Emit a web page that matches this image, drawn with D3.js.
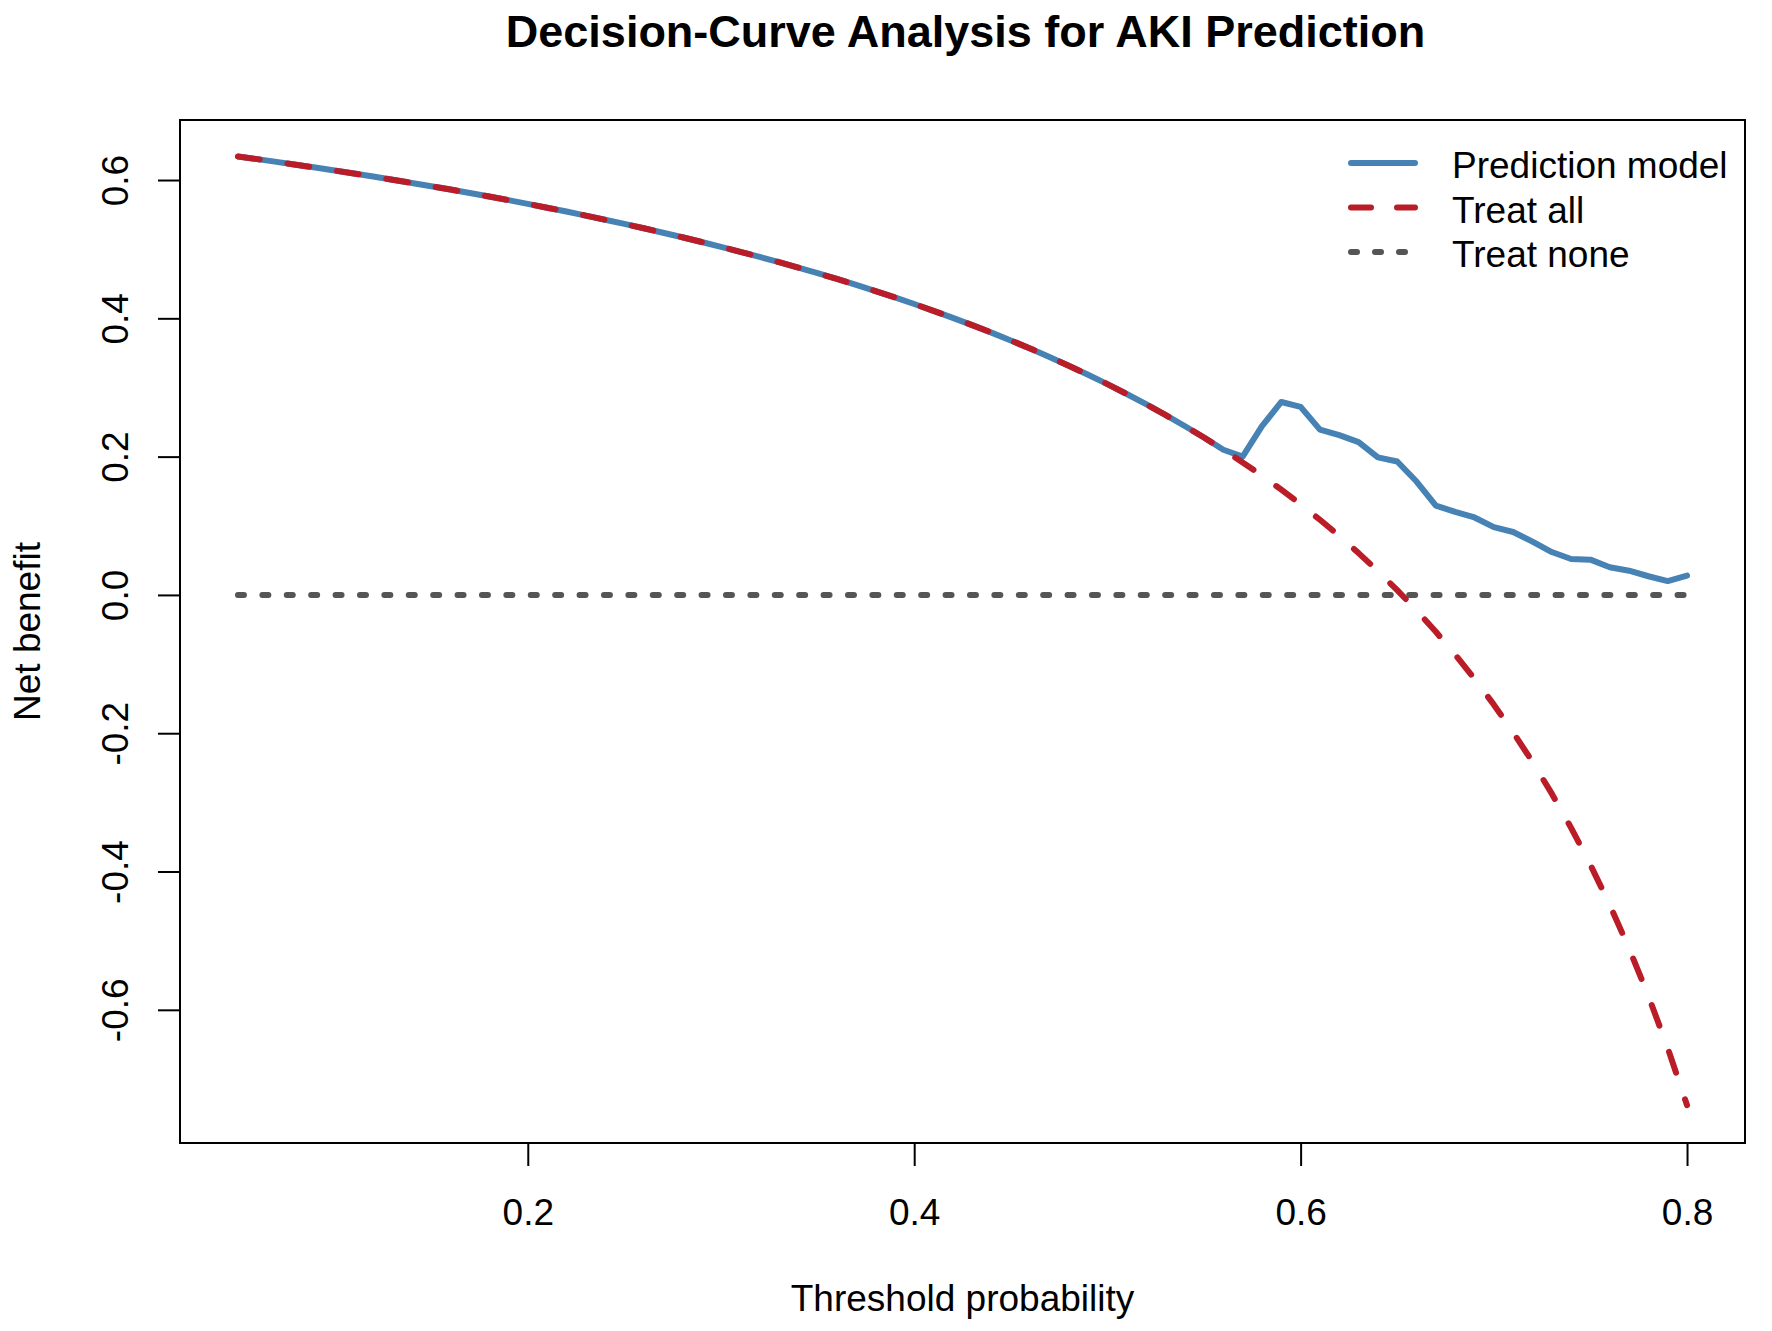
<!DOCTYPE html>
<html>
<head>
<meta charset="utf-8">
<script src="https://cdn.jsdelivr.net/npm/d3@7"></script>
<style>
  html, body { margin: 0; padding: 0; background: #fff; }
  svg { display: block; font-family: "Liberation Sans", Arial, sans-serif; }
</style>
</head>
<body>
<svg id="chart" width="1772" height="1331"></svg>
<script>
// ---- data ----
const thresholds = [
  0.05,0.06,0.07,0.08,0.09,0.10,0.11,0.12,0.13,0.14,0.15,0.16,0.17,0.18,0.19,
  0.20,0.21,0.22,0.23,0.24,0.25,0.26,0.27,0.28,0.29,0.30,0.31,0.32,0.33,0.34,
  0.35,0.36,0.37,0.38,0.39,0.40,0.41,0.42,0.43,0.44,0.45,0.46,0.47,0.48,0.49,
  0.50,0.51,0.52,0.53,0.54,0.55,0.56,0.57,0.58,0.59,0.60,0.61,0.62,0.63,0.64,
  0.65,0.66,0.67,0.68,0.69,0.70,0.71,0.72,0.73,0.74,0.75,0.76,0.77,0.78,0.79,0.80
];
const treatAll = [
  0.6341,0.6302,0.6262,0.6222,0.6180,0.6138,0.6094,0.6050,0.6005,0.5958,0.5911,0.5862,0.5812,0.5761,0.5709,
  0.5655,0.5600,0.5544,0.5486,0.5426,0.5365,0.5303,0.5238,0.5172,0.5104,0.5034,0.4962,0.4888,0.4812,0.4733,
  0.4652,0.4569,0.4483,0.4394,0.4302,0.4207,0.4108,0.4007,0.3902,0.3793,0.3680,0.3563,0.3442,0.3315,0.3184,
  0.3048,0.2906,0.2758,0.2604,0.2443,0.2276,0.2100,0.1916,0.1724,0.1522,0.1310,0.1087,0.0853,0.0605,0.0344,
  0.0069,-0.0224,-0.0533,-0.0863,-0.1213,-0.1587,-0.1986,-0.2414,-0.2874,-0.3369,-0.3904,-0.4483,-0.5113,-0.5800,-0.6552,-0.7380
];
const predictionModel = [
  0.6341,0.6302,0.6262,0.6222,0.6180,0.6138,0.6094,0.6050,0.6005,0.5958,0.5911,0.5862,0.5812,0.5761,0.5709,
  0.5655,0.5600,0.5544,0.5486,0.5426,0.5365,0.5303,0.5238,0.5172,0.5104,0.5034,0.4962,0.4888,0.4812,0.4733,
  0.4652,0.4569,0.4483,0.4394,0.4302,0.4207,0.4108,0.4007,0.3902,0.3793,0.3680,0.3563,0.3442,0.3315,0.3184,
  0.3048,0.2906,0.2758,0.2604,0.2443,0.2276,0.2100,0.2000,0.2440,0.2790,0.2720,0.2390,0.2310,0.2210,0.1990,
  0.1930,0.1640,0.1290,0.1200,0.1120,0.0980,0.0910,0.0770,0.0620,0.0520,0.0510,0.0400,0.0350,0.0270,0.0200,0.0280
];
const treatNone = thresholds.map(() => 0);
const xTicks = [0.2, 0.4, 0.6, 0.8];
const yTicks = [-0.6, -0.4, -0.2, 0.0, 0.2, 0.4, 0.6];
const legendLabels = ["Prediction model", "Treat all", "Treat none"];
const titleText = "Decision-Curve Analysis for AKI Prediction";
const xLabel = "Threshold probability";
const yLabel = "Net benefit";

// ---- layout ----
const L = 180, R = 1745, T = 120, B = 1143;
const svg = d3.select("#chart");

const x = d3.scaleLinear().domain([0.02, 0.83]).range([L, R]);
const y = d3.scaleLinear().domain([-0.7926, 0.6868]).range([B, T]);

const COLORS = { model: "#4682B4", all: "#BA1C28", none: "#555555" };
const LW = 6;
const fmt = v => d3.format(".1f")(v).replace("\u2212", "-");

// lines
const line = d3.line().x(d => x(d[0])).y(d => y(d[1]));
const zip = arr => thresholds.map((t, i) => [t, arr[i]]);

svg.append("path").datum(zip(predictionModel)).attr("d", line)
  .attr("fill", "none").attr("stroke", COLORS.model).attr("stroke-width", LW)
  .attr("stroke-linejoin", "round").attr("stroke-linecap", "round");

svg.append("path").datum(zip(treatAll)).attr("d", line)
  .attr("fill", "none").attr("stroke", COLORS.all).attr("stroke-width", LW)
  .attr("stroke-dasharray", "22 28")
  .attr("stroke-linejoin", "round").attr("stroke-linecap", "round");

svg.append("path").datum(zip(treatNone)).attr("d", line)
  .attr("fill", "none").attr("stroke", COLORS.none).attr("stroke-width", LW)
  .attr("stroke-dasharray", "6 18.4")
  .attr("stroke-linecap", "round");

// box
svg.append("rect").attr("x", L).attr("y", T).attr("width", R - L).attr("height", B - T)
  .attr("fill", "none").attr("stroke", "#000").attr("stroke-width", 2);

// x axis
const gx = svg.append("g").attr("transform", `translate(0,${B})`)
  .call(d3.axisBottom(x).tickValues(xTicks).tickSize(23).tickFormat(fmt));
gx.select(".domain").remove();
gx.selectAll(".tick line").attr("stroke", "#000").attr("stroke-width", 2);
gx.selectAll(".tick text").attr("y", 82).attr("dy", 0)
  .attr("font-size", 37).attr("fill", "#000")
  .attr("font-family", "'Liberation Sans', Arial, sans-serif");

// y axis
const gy = svg.append("g").attr("transform", `translate(${L},0)`)
  .call(d3.axisLeft(y).tickValues(yTicks).tickSize(22).tickFormat(fmt));
gy.select(".domain").remove();
gy.selectAll(".tick line").attr("stroke", "#000").attr("stroke-width", 2);
gy.selectAll(".tick text").attr("x", 0).attr("dy", 0)
  .attr("text-anchor", "middle")
  .attr("transform", "translate(-52,0) rotate(-90)")
  .attr("font-size", 37).attr("fill", "#000")
  .attr("font-family", "'Liberation Sans', Arial, sans-serif");

// title and axis labels
svg.append("text").attr("x", (L + R) / 2 + 3).attr("y", 47)
  .attr("text-anchor", "middle").attr("font-size", 45).attr("font-weight", "bold")
  .attr("fill", "#000").text(titleText);

svg.append("text").attr("x", (L + R) / 2).attr("y", 1311)
  .attr("text-anchor", "middle").attr("font-size", 37).attr("fill", "#000").text(xLabel);

svg.append("text").attr("transform", `translate(40,${(T + B) / 2}) rotate(-90)`)
  .attr("text-anchor", "middle").attr("font-size", 37).attr("fill", "#000").text(yLabel);

// legend
const legendStyles = [
  { color: COLORS.model, dash: null },
  { color: COLORS.all, dash: "20 26" },
  { color: COLORS.none, dash: "6 18" }
];
const lg = svg.append("g");
legendLabels.forEach((lab, i) => {
  const ly = 163 + i * 44.5;
  const ln = lg.append("line").attr("x1", 1351).attr("x2", 1415).attr("y1", ly).attr("y2", ly)
    .attr("stroke", legendStyles[i].color).attr("stroke-width", LW).attr("stroke-linecap", "round");
  if (legendStyles[i].dash) ln.attr("stroke-dasharray", legendStyles[i].dash);
  lg.append("text").attr("x", 1452).attr("y", ly + 15)
    .attr("font-size", 37).attr("fill", "#000").text(lab);
});
</script>
</body>
</html>
